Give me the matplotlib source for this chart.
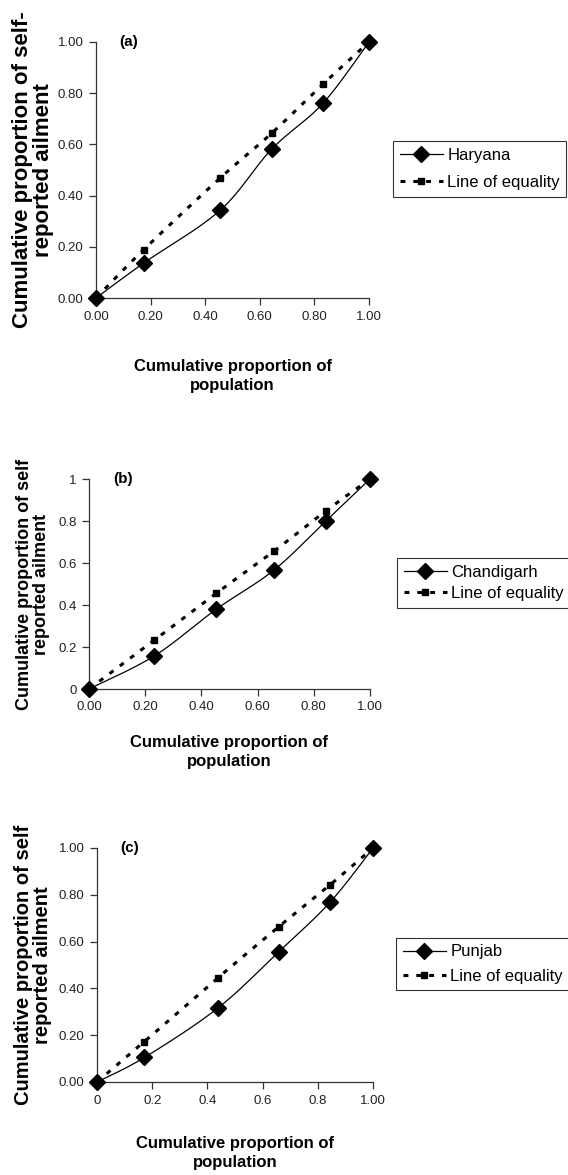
import matplotlib
matplotlib.use("Agg")
import matplotlib.pyplot as plt
from matplotlib import font_manager
import numpy as np

# Haryana
x_har = [0.0, 0.174, 0.454, 0.643, 0.831, 1.0]
y_har = [0.0, 0.136, 0.342, 0.581, 0.760, 1.0]
y_eq_har = [0.0, 0.188, 0.468, 0.643, 0.835, 1.0]

# Chandigarh
x_chd = [0.0, 0.233, 0.453, 0.658, 0.843, 1.0]
y_chd = [0.0, 0.158, 0.380, 0.566, 0.800, 1.0]
y_eq_chd = [0.0, 0.233, 0.456, 0.656, 0.848, 1.0]

# Punjab
x_pun = [0.0, 0.172, 0.438, 0.659, 0.845, 1.0]
y_pun = [0.0, 0.105, 0.316, 0.557, 0.769, 1.0]
y_eq_pun = [0.0, 0.173, 0.445, 0.664, 0.843, 1.0]

ticks = [0.0, 0.2, 0.4, 0.6, 0.8, 1.0]
xlabels_a = ["0.00", "0.20", "0.40", "0.60", "0.80", "1.00"]
ylabels_a = ["0.00", "0.20", "0.40", "0.60", "0.80", "1.00"]
xlabels_b = ["0.00", "0.20", "0.40", "0.60", "0.80", "1.00"]
ylabels_b = ["0", "0.2", "0.4", "0.6", "0.8", "1"]
xlabels_c = ["0", "0.2", "0.4", "0.6", "0.8", "1.00"]
ylabels_c = ["0.00", "0.20", "0.40", "0.60", "0.80", "1.00"]

installed = {f.name for f in font_manager.fontManager.ttflist}
NARROW = "Liberation Sans Narrow" if "Liberation Sans Narrow" in installed else "Liberation Sans"
TICK_SIZE = 11 if NARROW == "Liberation Sans Narrow" else 9.5
LEG_SIZE = 14 if NARROW == "Liberation Sans Narrow" else 12
BOLD = "Liberation Sans"

W, H = 568, 1175
fig = plt.figure(figsize=(W / 100, H / 100), dpi=100)


def smooth(x, y, n=30):
    # excel-like smoothed line (catmull-rom through the points)
    x = np.asarray(x, float)
    y = np.asarray(y, float)
    px = np.concatenate([[x[0]], x, [x[-1]]])
    py = np.concatenate([[y[0]], y, [y[-1]]])
    xs, ys = [], []
    t = np.linspace(0, 1, n)
    for i in range(1, len(px) - 2):
        p0 = np.array([px[i], py[i]])
        p3 = np.array([px[i + 1], py[i + 1]])
        p1 = p0 + (np.array([px[i + 1], py[i + 1]]) - np.array([px[i - 1], py[i - 1]])) / 6
        p2 = p3 - (np.array([px[i + 2], py[i + 2]]) - np.array([px[i], py[i]])) / 6
        b = ((1 - t) ** 3)[:, None] * p0 + (3 * (1 - t) ** 2 * t)[:, None] * p1 \
            + (3 * (1 - t) * t ** 2)[:, None] * p2 + (t ** 3)[:, None] * p3
        xs.extend(b[:, 0])
        ys.extend(b[:, 1])
    return xs, ys


def panel(box, tag, x, y, y_eq, name, xlabels, ylabels, ylab_size, leg_box, leg_space):
    left, top, right, bottom = box
    ax = fig.add_axes([left / W, 1 - bottom / H, (right - left) / W, (bottom - top) / H])
    sx, sy = smooth(x, y)
    ax.plot(sx, sy, color="black", lw=0.9, clip_on=False)
    ax.plot(x, y, ls="none", marker="D", ms=8.5, color="black", clip_on=False, zorder=5)
    ex, ey = smooth(x, y_eq)
    ax.plot(ex, ey, color="black", lw=2.2, ls=(0, (1.6, 2.6)), clip_on=False)
    ax.plot(x[1:], y_eq[1:], ls="none", marker="s", ms=5, color="black", clip_on=False, zorder=4)

    ax.set_xlim(0, 1)
    ax.set_ylim(0, 1)
    ax.set_xticks(ticks)
    ax.set_yticks(ticks)
    ax.set_xticklabels(xlabels, family=NARROW, fontsize=TICK_SIZE, color="#222222")
    ax.set_yticklabels(ylabels, family=NARROW, fontsize=TICK_SIZE, color="#222222")
    ax.tick_params(direction="out", length=5, width=0.9, color="#333333", pad=4)
    for s in ["top", "right"]:
        ax.spines[s].set_visible(False)
    for s in ["left", "bottom"]:
        ax.spines[s].set_color("#333333")
        ax.spines[s].set_linewidth(0.9)

    ax.text(0.085, 1.0, tag, transform=ax.transAxes, ha="left", va="center",
            family=BOLD, weight="bold", fontsize=11)

    cy = (top + bottom) / 2
    fig.text(33 / W, 1 - cy / H, ylab_text[tag], rotation=90, ha="center", va="center",
             multialignment="center", family=BOLD, weight="bold", fontsize=ylab_size,
             linespacing=0.95)
    cx = (left + right) / 2
    fig.text(cx / W, 1 - xlab_y[tag] / H, "Cumulative proportion of\npopulation",
             ha="center", va="center", multialignment="center", family=BOLD,
             weight="bold", fontsize=12, linespacing=1.35)

    h1, = ax.plot([], [], color="black", lw=0.9, marker="D", ms=8.5)
    h2, = ax.plot([], [], color="black", lw=2.2, ls=(0, (1.6, 2.6)), marker="s", ms=5)
    lx, ly = leg_box
    leg = fig.legend([h1, h2], [name, "Line of equality"], loc="center left",
                     bbox_to_anchor=(lx / W, 1 - ly / H), frameon=True, fancybox=False,
                     edgecolor="black", prop={"family": NARROW, "size": LEG_SIZE},
                     handlelength=2.6, handletextpad=0.25, borderpad=0.4,
                     labelspacing=leg_space, borderaxespad=0)
    leg.get_frame().set_linewidth(0.8)
    return ax


ylab_text = {
    "(a)": "Cumulative proportion of self-\nreported ailment",
    "(b)": "Cumulative proportion of self\nreported ailment",
    "(c)": "Cumulative proportion of self\nreported ailment",
}
xlab_y = {"(a)": 376, "(b)": 752, "(c)": 1153}

panel((96, 42, 369, 298), "(a)", x_har, y_har, y_eq_har, "Haryana",
      xlabels_a, ylabels_a, 16, (393, 169), 0.75)
panel((89, 479, 370, 689), "(b)", x_chd, y_chd, y_eq_chd, "Chandigarh",
      xlabels_b, ylabels_b, 13, (397, 583), 0.35)
panel((97, 848, 373, 1082), "(c)", x_pun, y_pun, y_eq_pun, "Punjab",
      xlabels_c, ylabels_c, 14.5, (396, 964), 0.55)

fig.savefig("out.png", dpi=100, facecolor="white")
